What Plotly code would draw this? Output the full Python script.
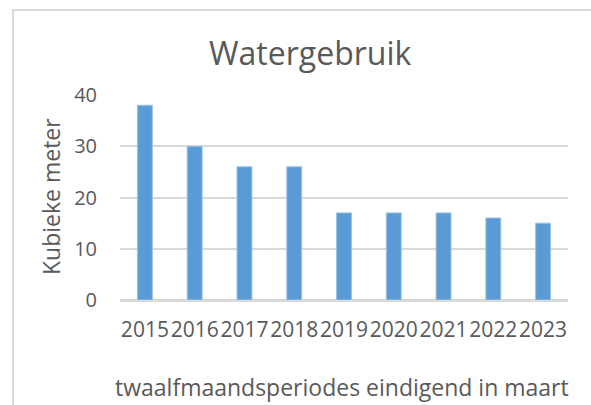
import plotly.graph_objects as go

years = ["2015", "2016", "2017", "2018", "2019", "2020", "2021", "2022", "2023"]
usage = [38, 30, 26, 26, 17, 17, 17, 16, 15]
y_ticks = [0, 10, 20, 30, 40]

W, H = 591, 405
L, R, T, B = 120, 23, 95, 105
pw, ph = W - L - R, H - T - B

def px(x):
    return (x - L) / pw

def py(y):
    return (H - B - y) / ph

font = "Open Sans"
col = "#595959"

fig = go.Figure(go.Bar(
    x=years, y=usage,
    marker=dict(color="#5b9bd5", line=dict(color="#9dc3e6", width=1)),
    width=0.3,
))

fig.update_layout(
    width=W, height=H,
    margin=dict(l=L, r=R, t=T, b=B),
    paper_bgcolor="white", plot_bgcolor="white",
    showlegend=False,
    font=dict(family=font, color=col, size=20),
    xaxis=dict(type="category", tickangle=0, showgrid=False, showline=True,
               linecolor="#d9d9d9", linewidth=2, ticks="", ticklabelstandoff=10,
               tickfont=dict(size=21, color=col)),
    yaxis=dict(range=[0, 40], tickvals=y_ticks, showgrid=True, gridcolor="#d9d9d9",
               gridwidth=2, zeroline=True, zerolinecolor="#d9d9d9", zerolinewidth=2,
               ticks="", ticklabelstandoff=22, tickfont=dict(size=20, color=col)),
    annotations=[
        dict(text="Watergebruik", x=px(310), y=py(52), xref="paper", yref="paper",
             showarrow=False, xanchor="center", yanchor="middle",
             font=dict(size=32, color=col, family=font)),
        dict(text="Kubieke meter", x=px(51), y=py(197), xref="paper", yref="paper",
             showarrow=False, xanchor="center", yanchor="middle", textangle=-90,
             font=dict(size=23, color=col, family=font)),
        dict(text="twaalfmaandsperiodes eindigend in maart", x=px(342), y=py(387),
             xref="paper", yref="paper", showarrow=False, xanchor="center",
             yanchor="middle", font=dict(size=23, color=col, family=font)),
    ],
    shapes=[
        dict(type="rect", xref="paper", yref="paper", x0=px(13), x1=px(620),
             y0=py(420), y1=py(10), line=dict(color="#d9d9d9", width=2),
             fillcolor="rgba(0,0,0,0)", layer="below"),
    ],
)

fig.write_html("out.html", config={"displayModeBar": False},
               post_script="document.body.style.margin='0';document.body.style.overflow='hidden';")
